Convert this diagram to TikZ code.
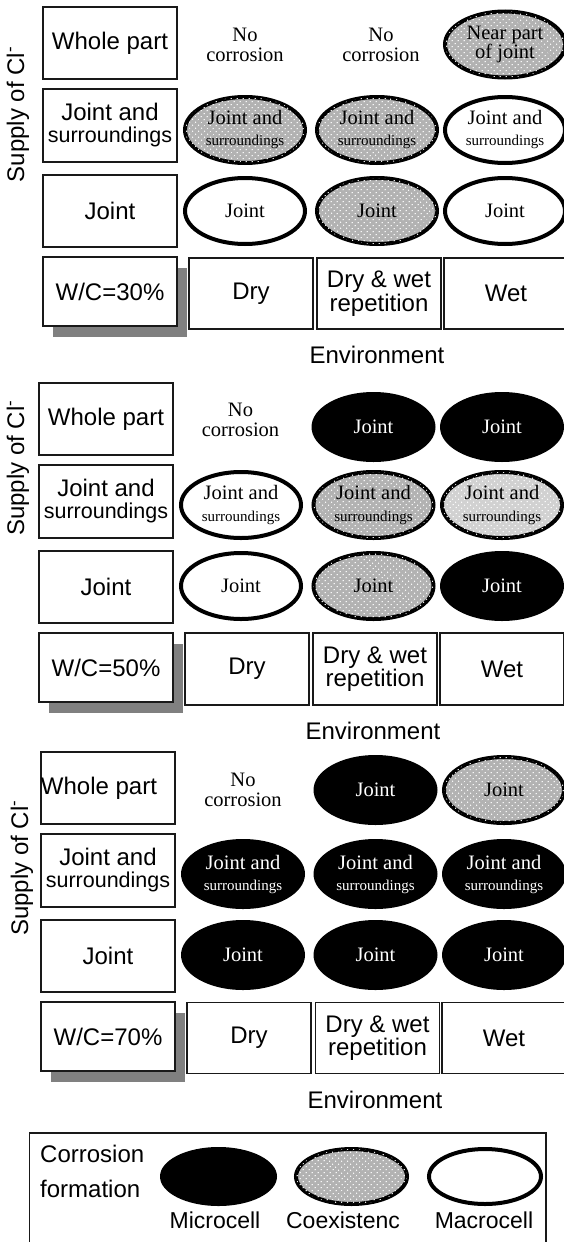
\documentclass[tikz,border=0pt]{standalone}
\usepackage{fontspec}
\setmainfont{Liberation Serif}
\setsansfont{Liberation Sans}
\usepackage{tikz}
\usetikzlibrary{shapes.geometric, shadows, patterns.meta}
\newcommand{\jsurr}{Joint and\\[-1pt]{\fontsize{15}{18}\selectfont surroundings}}
\newcommand{\boxjsurr}{Joint and\\{\fontsize{21.5}{22}\selectfont surroundings}}
\newcommand{\nocorr}{No\\[-2pt]corrosion}
\tikzset{
    labelnode/.style={rectangle, draw=black!90, line width=1.5pt, minimum width=134pt, minimum height=72pt, inner sep=0pt, align=center, font=\sffamily\fontsize{24}{22}\selectfont},
    envnode/.style={labelnode, minimum width=124pt, minimum height=71pt},
    wcnode/.style={labelnode, minimum height=69pt, fill=white, drop shadow={shadow xshift=10pt, shadow yshift=-11pt, fill=black!50, opacity=1}},
    cellnode/.style={ellipse, inner sep=0pt, align=center, font=\rmfamily\fontsize{20.5}{22}\selectfont},
    micronode/.style={cellnode, fill=black, text=white, minimum width=124pt, minimum height=70pt},
    coexnode/.style={cellnode, draw, line width=4pt, fill=black!30, minimum width=120pt, minimum height=66pt,
        postaction={pattern={Dots[distance=4pt, radius=0.8pt, angle=45]}, pattern color=white}},
    macronode/.style={cellnode, draw, line width=4pt, fill=white, minimum width=120pt, minimum height=66pt},
    plaintext/.style={align=center, inner sep=0pt, font=\rmfamily\fontsize{20.5}{22}\selectfont},
    sidetext/.style={inner sep=0pt, font=\sffamily\fontsize{24}{26}\selectfont}
}
\begin{document}
\begin{tikzpicture}[x=1pt, y=1pt]
\useasboundingbox (0,0) rectangle (564,-1242);
\clip (0,0) rectangle (564,-1242);
% W/C=30%
\node[labelnode] (w1) at (110,-43) {Whole part};
\node[labelnode, minimum height=73pt] (s1) at (110,-125.5) {\boxjsurr};
\node[labelnode] (j1) at (110,-211) {Joint};
\node[wcnode] (wc1) at (110,-291.5) {W/C=30\%};
\node[envnode] (dry1) at (251,-293.5) {Dry};
\node[envnode] (dw1) at (379,-293.5) {Dry \& wet\\repetition};
\node[envnode] (wet1) at (506,-293.5) {Wet};
\node[plaintext] (p1-1-1) at (245,-45) {\nocorr};
\node[plaintext] (p1-1-2) at (381,-45) {\nocorr};
\node[coexnode] (p1-1-3) at (505,-44.5) {Near part\\[-3pt]of joint};
\node[coexnode] (p1-2-1) at (245,-130) {\jsurr};
\node[coexnode] (p1-2-2) at (377,-130) {\jsurr};
\node[macronode] (p1-2-3) at (505,-130) {\jsurr};
\node[macronode] (p1-3-1) at (245,-211) {Joint};
\node[coexnode] (p1-3-2) at (377,-211) {Joint};
\node[macronode] (p1-3-3) at (505,-211) {Joint};
\node[sidetext, rotate=90] (sup1) at (18,-114.5) {Supply of Cl\textsuperscript{-}};
\node[sidetext, anchor=base] (env1) at (377,-363) {Environment};
% W/C=50%
\node[labelnode] (w2) at (106,-419) {Whole part};
\node[labelnode, minimum height=73pt] (s2) at (106,-501.5) {\boxjsurr};
\node[labelnode] (j2) at (106,-587) {Joint};
\node[wcnode] (wc2) at (106,-667.5) {W/C=50\%};
\node[envnode, minimum height=72pt] (dry2) at (247,-669) {Dry};
\node[envnode, minimum height=72pt] (dw2) at (375,-669) {Dry \& wet\\repetition};
\node[envnode, minimum height=72pt] (wet2) at (502,-669) {Wet};
\node[plaintext] (p2-1-1) at (240.5,-420) {\nocorr};
\node[micronode] (p2-1-2) at (373.5,-427) {Joint};
\node[micronode] (p2-1-3) at (502,-427) {Joint};
\node[macronode] (p2-2-1) at (241,-505) {\jsurr};
\node[coexnode] (p2-2-2) at (373.5,-505) {\jsurr};
\node[coexnode, fill=black!18] (p2-2-3) at (502,-505) {\jsurr};
\node[macronode] (p2-3-1) at (241,-586) {Joint};
\node[coexnode] (p2-3-2) at (373.5,-586) {Joint};
\node[micronode] (p2-3-3) at (502,-586) {Joint};
\node[sidetext, rotate=90] (sup2) at (18,-468) {Supply of Cl\textsuperscript{-}};
\node[sidetext, anchor=base] (env2) at (373,-739) {Environment};
% W/C=70%
\node[labelnode] (w3) at (108,-788) {\makebox[0pt]{Whole part\hspace*{18pt}}};
\node[labelnode, minimum height=73pt] (s3) at (108,-870.5) {\boxjsurr};
\node[labelnode] (j3) at (108,-956) {Joint};
\node[wcnode] (wc3) at (108,-1036.5) {W/C=70\%};
\node[envnode] (dry3) at (249,-1038) {Dry};
\node[envnode] (dw3) at (377.5,-1038) {Dry \& wet\\repetition};
\node[envnode] (wet3) at (504,-1038) {Wet};
\node[plaintext] (p3-1-1) at (243,-790) {\nocorr};
\node[micronode] (p3-1-2) at (375.5,-790) {Joint};
\node[coexnode] (p3-1-3) at (504,-790) {Joint};
\node[micronode] (p3-2-1) at (243,-874) {\jsurr};
\node[micronode] (p3-2-2) at (375.5,-874) {\jsurr};
\node[micronode] (p3-2-3) at (504,-874) {\jsurr};
\node[micronode] (p3-3-1) at (243,-955) {Joint};
\node[micronode] (p3-3-2) at (375.5,-955) {Joint};
\node[micronode] (p3-3-3) at (504,-955) {Joint};
\node[sidetext, rotate=90] (sup3) at (22,-868) {Supply of Cl\textsuperscript{-}};
\node[sidetext, anchor=base] (env3) at (375,-1108) {Environment};
% legend
\node[draw=black!90, line width=1.3pt, minimum width=516.5pt, minimum height=130pt, inner sep=0pt] (leg) at (287.75,-1198) {};
\node[sidetext, anchor=base west] (corr) at (40,-1162) {Corrosion};
\node[sidetext, anchor=base west] (form) at (40,-1197) {formation};
\node[micronode, minimum width=117pt, minimum height=59pt] (micro) at (218.5,-1176.5) {};
\node[coexnode, minimum width=111pt, minimum height=55pt] (coex) at (351.5,-1176.5) {};
\node[macronode, minimum width=112pt, minimum height=55pt] (macro) at (485,-1176.5) {};
\node[sidetext, anchor=base, font=\sffamily\fontsize{23}{26}\selectfont] (microlbl) at (215,-1228) {Microcell};
\node[sidetext, anchor=base, font=\sffamily\fontsize{23}{26}\selectfont] (coexlbl) at (343,-1228) {Coexistenc};
\node[sidetext, anchor=base, font=\sffamily\fontsize{23}{26}\selectfont] (macrolbl) at (484,-1228) {Macrocell};
\end{tikzpicture}
\end{document}
